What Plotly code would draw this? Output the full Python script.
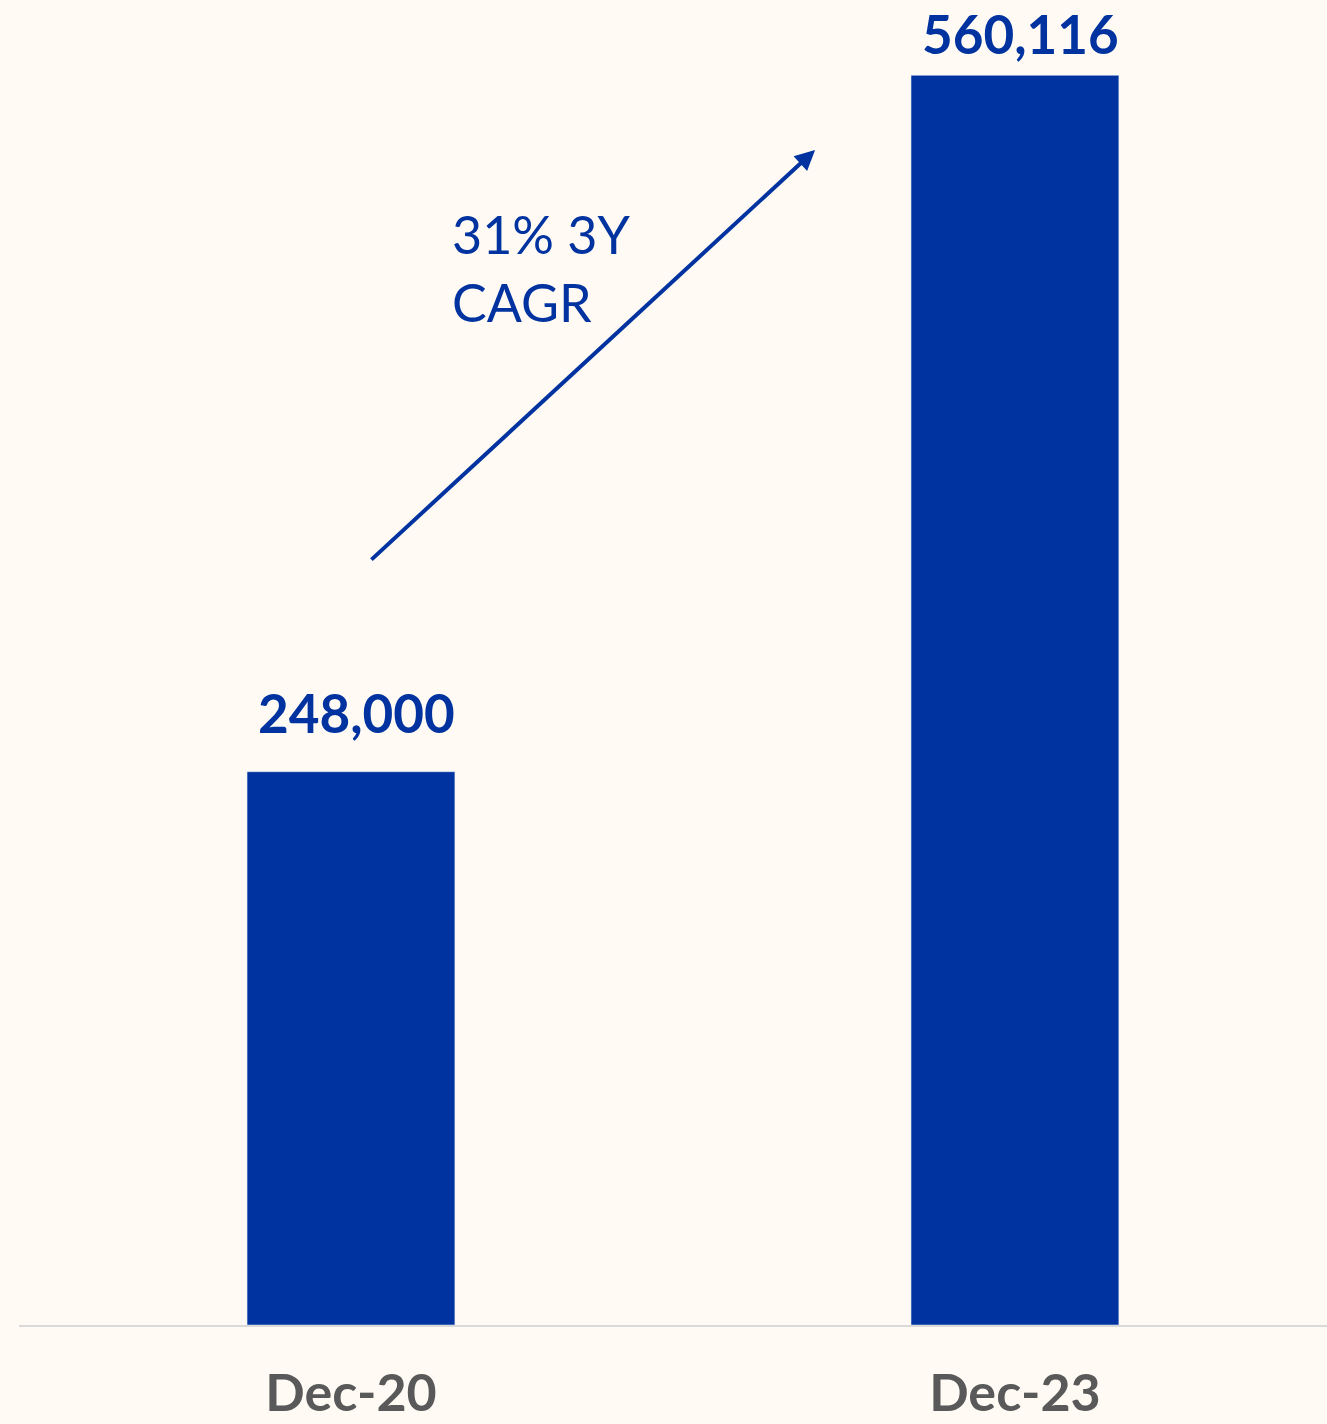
import plotly.graph_objects as go

categories = ["Dec-20", "Dec-23"]
values = [248000, 560116]
value_labels = ["248,000", "560,116"]
cagr_text = "31% 3Y<br>CAGR"

BLUE = "#0033A0"
GRAY = "#595959"
BG = "#FFFAF4"

fig = go.Figure()
fig.add_trace(go.Bar(
    x=categories, y=values, marker_color=BLUE, width=0.313,
    hoverinfo="skip",
))

label_shift = [26, 8]
for c, v, t, s in zip(categories, values, value_labels, label_shift):
    fig.add_annotation(x=c, y=v, text=f"<b>{t}</b>", showarrow=False,
                       yanchor="bottom", yshift=s, xshift=6,
                       font=dict(family="Lato", size=53, color=BLUE))

# CAGR arrow
fig.add_annotation(xref="x domain", yref="y domain", x=0.6086, y=0.8868,
                   ax=0.2683, ay=0.5766, axref="x domain", ayref="y domain",
                   text="", showarrow=True, arrowhead=2, arrowsize=1.0,
                   arrowwidth=4, arrowcolor=BLUE, standoff=0)
fig.add_annotation(xref="x domain", yref="y domain", x=0.3295, y=0.848,
                   text=cagr_text, showarrow=False, xanchor="left", yanchor="top",
                   align="left", font=dict(family="Lato", size=52, color=BLUE))

fig.update_layout(
    width=1327, height=1424,
    margin=dict(l=19, r=0, t=0, b=99),
    paper_bgcolor=BG, plot_bgcolor=BG,
    showlegend=False,
    xaxis=dict(range=[-0.5, 1.47], showgrid=False, zeroline=False,
               showline=True, linecolor="#D9D9D9", linewidth=2,
               automargin=False,
               ticks="", tickfont=dict(family="Lato", size=52, color=GRAY),
               ticklabelstandoff=22,
               tickvals=categories, ticktext=[f"<b>{c}</b>" for c in categories]),
    yaxis=dict(range=[0, 593900], visible=False, showgrid=False, zeroline=False,
               automargin=False),
)

fig.write_html("out.html")
